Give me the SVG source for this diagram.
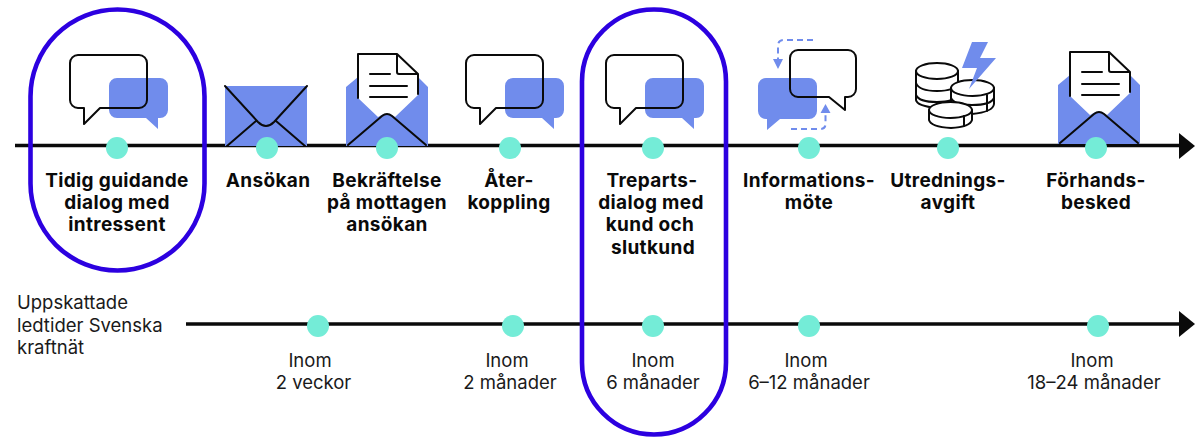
<svg xmlns="http://www.w3.org/2000/svg" xmlns:xlink="http://www.w3.org/1999/xlink" width="1200" height="437" viewBox="0 0 1200 437">
<style>
.b{font:700 19px Inter,"Liberation Sans",sans-serif;fill:#0a0a0a;text-anchor:middle;letter-spacing:.35px}
.r{font:400 18.500px Inter,"Liberation Sans",sans-serif;fill:#1a1a1a}
.m{text-anchor:middle}
.dot{fill:#74ecd7}
.ln{fill:none;stroke:#0a0a0a;stroke-width:2;stroke-linecap:round;stroke-linejoin:round}
.blue{fill:#708cec}
.tl{fill:none;stroke:#0a0a0a;stroke-width:3.6}
.ring{fill:none;stroke:#2c00e0;stroke-width:4.6}
.dash{fill:none;stroke:#708cec;stroke-width:2;stroke-dasharray:6 4}
.coin{fill:#fff;stroke:#0a0a0a;stroke-width:2;stroke-linejoin:round}
</style>
<defs>
<g id="chat">
<path class="blue" d="M117,78H160a8,8 0 0 1 8,8V110a8,8 0 0 1-8,8H158V129L146,118H117a8,8 0 0 1-8-8V86a8,8 0 0 1 8-8Z"/>
<path class="ln" d="M78,55H139a8,8 0 0 1 8,8V100a8,8 0 0 1-8,8H100L84,124V108H78a8,8 0 0 1-8-8V63a8,8 0 0 1 8-8Z"/>
</g>
<g id="openenv">
<path class="blue" d="M346,87L358,77V98L378,117Q387,110 395,117L418,95V77L428,87V146H346Z"/>
<path class="ln" d="M358,98V54H397L418,74V94M397,54V72Q397,74 399,74H418M370,74H390M370,86H407M370,97H407M348,145L382,116Q387,112 392,116L426,145"/>
</g>
</defs>
<g id="connectors">
<path class="tl" d="M15,145.500H1182"/><path d="M1179,133L1195,146L1179,159Z" fill="#0a0a0a"/>
<path class="tl" d="M186,324H1182"/><path d="M1179,311L1195,324L1179,337Z" fill="#0a0a0a"/>
</g>
<g id="n1"><use xlink:href="#chat"/><circle class="dot" cx="117" cy="148" r="11"/>
<text class="b"><tspan x="117" y="187">Tidig guidande</tspan><tspan x="117" y="209">dialog med</tspan><tspan x="117" y="231">intressent</tspan></text></g>
<g id="n2"><rect class="blue" x="225" y="86" width="82" height="60"/><path class="ln" d="M225,86L258,122Q266,130 274,122L307,86M227,146L256,121M276,121L305,146"/><circle class="dot" cx="267" cy="148" r="11"/>
<text class="b" x="268" y="187">Ansökan</text></g>
<g id="n3"><use xlink:href="#openenv"/><circle class="dot" cx="387" cy="148" r="11"/>
<text class="b"><tspan x="387" y="187">Bekräftelse</tspan><tspan x="387" y="209">på mottagen</tspan><tspan x="387" y="231">ansökan</tspan></text></g>
<g id="n4"><use xlink:href="#chat" x="396"/><circle class="dot" cx="510" cy="148" r="11"/>
<text class="b"><tspan x="509" y="187">Åter-</tspan><tspan x="509" y="209">koppling</tspan></text></g>
<g id="n5"><use xlink:href="#chat" x="536"/><circle class="dot" cx="653" cy="148" r="11"/>
<text class="b"><tspan x="652" y="187">Treparts-</tspan><tspan x="651" y="209">dialog med</tspan><tspan x="650" y="231">kund och</tspan><tspan x="653" y="254">slutkund</tspan></text></g>
<g id="n6">
<path class="blue" d="M766,78H809a8,8 0 0 1 8,8V111a8,8 0 0 1-8,8H780L767,130V119H766a8,8 0 0 1-8-8V86a8,8 0 0 1 8-8Z"/>
<path class="ln" d="M798,50H848a8,8 0 0 1 8,8V89a8,8 0 0 1-8,8H845V110L829,97H798a8,8 0 0 1-8-8V58a8,8 0 0 1 8-8Z"/>
<path class="dash" d="M813,40H784Q778,40 778,46V60M791,129H820Q825.500,129 825.500,124V113"/>
<path class="blue" d="M773,59H783L778,69ZM820.500,113H830.500L825.500,104Z"/>
<circle class="dot" cx="809" cy="148" r="11"/>
<text class="b"><tspan x="809" y="187">Informations-</tspan><tspan x="809" y="209">möte</tspan></text></g>
<g id="n7">
<path class="coin" d="M916,71V100Q917,106 937,108Q957,106 958,100V71Z"/><ellipse class="coin" cx="937" cy="71" rx="21" ry="8"/>
<path class="ln" d="M916,83Q919,91 937,91Q955,91 958,83M916,95Q919,102 937,102Q955,102 958,95"/>
<path class="coin" d="M951,88V104Q952,112 972,114Q993,112 994,104V88Z"/><ellipse class="coin" cx="972.500" cy="88" rx="21.500" ry="8"/>
<path class="ln" d="M951,98Q954,105 972,105Q991,105 994,98M987,95V111"/>
<path class="coin" d="M929,110V120Q931,127 951,128Q970,127 972,120V110Z"/><ellipse class="coin" cx="950.500" cy="110" rx="21.500" ry="8"/>
<path class="ln" d="M964,116V126"/>
<path class="blue" d="M972,42H988L980,58H996L969,89L977,68H962Z"/>
<circle class="dot" cx="948" cy="148" r="11"/>
<text class="b"><tspan x="948" y="187">Utrednings-</tspan><tspan x="948" y="209">avgift</tspan></text></g>
<g id="n8"><use xlink:href="#openenv" x="712" y="-2"/><circle class="dot" cx="1096" cy="148" r="11"/>
<text class="b"><tspan x="1096" y="187">Förhands-</tspan><tspan x="1096" y="209">besked</tspan></text></g>
<g id="note"><text class="r"><tspan x="17" y="309">Uppskattade</tspan><tspan x="17" y="332">ledtider Svenska</tspan><tspan x="17" y="354">kraftnät</tspan></text></g>
<g id="t1"><circle class="dot" cx="318" cy="326" r="11"/><text class="r m"><tspan x="310" y="367">Inom</tspan><tspan x="313.500" y="389">2 veckor</tspan></text></g>
<g id="t2"><circle class="dot" cx="513" cy="326" r="11"/><text class="r m"><tspan x="507" y="367">Inom</tspan><tspan x="510" y="389">2 månader</tspan></text></g>
<g id="t3"><circle class="dot" cx="653" cy="326" r="11"/><text class="r m"><tspan x="653" y="367">Inom</tspan><tspan x="653" y="389">6 månader</tspan></text></g>
<g id="t4"><circle class="dot" cx="809" cy="326" r="11"/><text class="r m"><tspan x="806" y="367">Inom</tspan><tspan x="809" y="389">6–12 månader</tspan></text></g>
<g id="t5"><circle class="dot" cx="1098" cy="326" r="11"/><text class="r m"><tspan x="1092" y="367">Inom</tspan><tspan x="1094" y="389">18–24 månader</tspan></text></g>
<g id="highlights"><rect class="ring" x="30.500" y="9.500" width="174" height="261" rx="87"/><rect class="ring" x="582" y="9.500" width="144" height="425" rx="72"/></g>
</svg>
